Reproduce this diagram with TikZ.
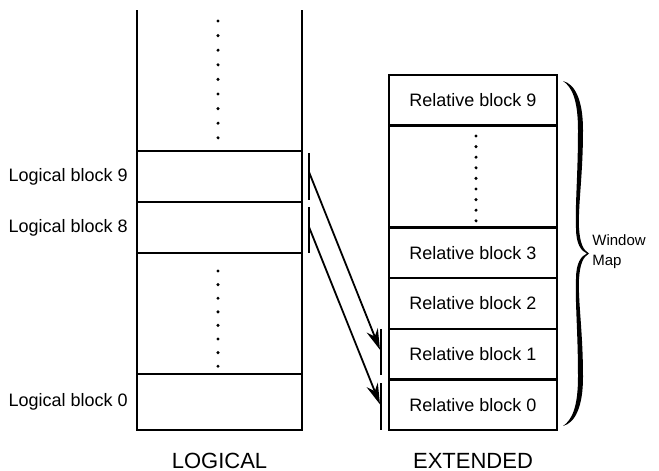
\documentclass[tikz,border=0pt]{standalone}
\usepackage{fontspec}
\setmainfont{Liberation Sans}
\usetikzlibrary{arrows.meta,positioning}

\begin{document}
\begin{tikzpicture}[x=0.5pt,y=-0.5pt,>={Stealth[length=10.5pt,width=6pt]},
                    font=\fontsize{9}{11}\selectfont]
  \tikzstyle{cell}=[draw,line width=1.2pt,inner sep=0pt,outer sep=0pt]
  \tikzstyle{lcell}=[cell,minimum width=82.5pt]
  \tikzstyle{rcell}=[cell,minimum width=84pt,minimum height=25.3pt]
  \tikzstyle{lab}=[inner sep=0pt]
  \tikzstyle{tick}=[line width=1pt]
  \tikzstyle{map}=[->,line width=0.9pt]
  \tikzstyle{caption}=[lab,font=\fontsize{11}{13}\selectfont]

  \useasboundingbox (0,0) rectangle (659,471);

  \node[lcell,minimum height=25.5pt] (L9) at (219.5,176.5) {};
  \node[lcell,minimum height=25.5pt,below=0pt of L9] (L8) {};
  \node[lcell,minimum height=60.5pt,below=0pt of L8] (Ldots) {};
  \node[lcell,minimum height=28pt,below=0pt of Ldots] (L0) {};
  \node[lcell,draw=none,minimum height=70.5pt,above=0pt of L9] (Ltop) {};
  \draw[line width=1.2pt] (Ltop.north west) -- (Ltop.south west)
                          (Ltop.north east) -- (Ltop.south east);

  \node[lab,left=4.5pt of L9] {Logical block 9};
  \node[lab,left=4.5pt of L8] {Logical block 8};
  \node[lab,left=4.5pt of L0] {Logical block 0};

  \node[rcell] (R9) at (473,100.3) {Relative block 9};
  \node[rcell,minimum height=51pt,below=0pt of R9] (Rdots) {};
  \node[rcell,below=0pt of Rdots] (R3) {Relative block 3};
  \node[rcell,below=0pt of R3] (R2) {Relative block 2};
  \node[rcell,below=0pt of R2] (R1) {Relative block 1};
  \node[rcell,below=0pt of R1] (R0) {Relative block 0};

  \foreach \i in {0,...,8}
    \fill (218,21+14.6*\i) circle (0.85pt);
  \foreach \i in {0,...,7}
    \fill (218,271+13.6*\i) circle (0.85pt);
  \foreach \i in {0,...,8}
    \fill (476,136+10.6*\i) circle (0.85pt);

  \draw[tick] ([xshift=3.5pt,yshift=-1pt]L9.north east) -- ([xshift=3.5pt,yshift=1pt]L9.south east);
  \draw[tick] ([xshift=3.5pt,yshift=-2.5pt]L8.north east) -- ([xshift=3.5pt]L8.south east);
  \draw[tick] ([xshift=-4pt]R1.north west) -- ([xshift=-4pt,yshift=2pt]R1.south west);
  \draw[tick] ([xshift=-4pt,yshift=-2pt]R0.north west) -- ([xshift=-4pt]R0.south west);

  \coordinate (a9) at ([xshift=3.5pt,yshift=-10.5pt]L9.north east);
  \coordinate (a8) at ([xshift=3.5pt,yshift=-12.5pt]L8.north east);
  \coordinate (b1) at ([xshift=-4.5pt,yshift=-10.5pt]R1.north west);
  \coordinate (b0) at ([xshift=-4.5pt,yshift=-12.5pt]R0.north west);
  \draw[map] (a9) -- (b1);
  \draw[map] (a8) -- (b0);

  \fill (563,81) .. controls (575,84) and (583,100) .. (583,130)
    .. controls (583,175) and (578,205) .. (579,228)
    .. controls (580,243) and (583,250) .. (589,253.5)
    .. controls (583,257) and (580,264) .. (579,279)
    .. controls (578,302) and (583,332) .. (583,377)
    .. controls (583,407) and (575,423) .. (563,426)
    .. controls (572,420) and (578,407) .. (578,377)
    .. controls (578,332) and (575,302) .. (576,279)
    .. controls (576,263) and (581,256) .. (587,253.5)
    .. controls (581,251) and (576,244) .. (576,228)
    .. controls (575,205) and (578,175) .. (578,130)
    .. controls (578,100) and (572,87) .. (563,81) -- cycle;
  \node[lab,anchor=west,align=left,font=\fontsize{7.5}{10}\selectfont] (wmap) at (592,252) {Window\\Map};

  \node[caption,below=11.5pt of L0] {LOGICAL};
  \node[caption,below=11.5pt of R0] {EXTENDED};
\end{tikzpicture}
\end{document}
